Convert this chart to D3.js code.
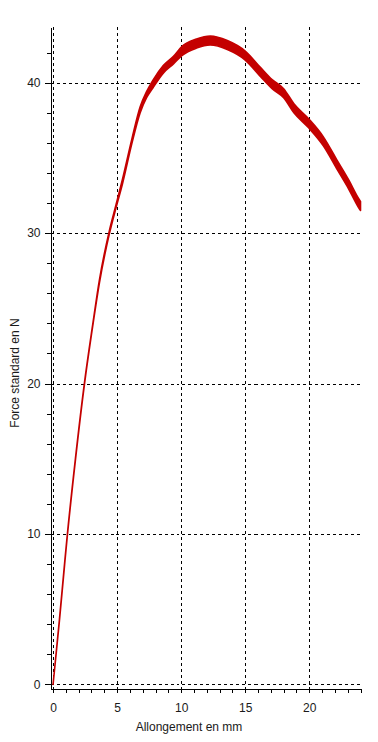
<!DOCTYPE html>
<html lang="fr">
<head>
    <meta charset="UTF-8">
    <title>Force / Allongement</title>
    <style>
        body { margin: 0; background: #fff; }
        svg { display: block; }
        text { font-family: "Liberation Sans", Arial, sans-serif; font-size: 12px; fill: #1a1a1a; }
        .grid line { stroke: #000; stroke-width: 1; stroke-dasharray: 3,3; shape-rendering: crispEdges; }
        .axis path, .axis line { stroke: #000; shape-rendering: crispEdges; }
    </style>
</head>
<body>
    <svg id="chart" width="378" height="742"></svg>

<script src="https://cdn.jsdelivr.net/npm/d3@7/dist/d3.min.js"></script>
<script>
    // elongation (mm) and force (N), centre of the noisy trace plus its band
    let elongation = [0, 0.5, 0.9, 1.1, 1.75, 2.45, 3.1, 3.62, 4.38, 4.92, 5.41, 6.15, 6.8, 7.3, 7.79, 8.62, 9.4, 10.05, 11.2, 12.27, 13.6, 15.0, 16.2, 17.1, 18.0, 18.8, 19.95, 21.1, 22.2, 23.1, 23.85, 24.0]
    let force = [0, 4.3, 8.0, 9.8, 15.0, 20.0, 23.9, 26.8, 30.0, 31.8, 33.4, 36.1, 38.2, 39.2, 39.9, 40.9, 41.5, 42.1, 42.6, 42.8, 42.5, 41.8, 40.7, 39.9, 39.3, 38.3, 37.3, 36.1, 34.5, 33.2, 32.0, 31.8]
    let noise = [0, 0.05, 0.05, 0.05, 0.05, 0.05, 0.05, 0.1, 0.1, 0.1, 0.15, 0.15, 0.2, 0.2, 0.25, 0.25, 0.25, 0.3, 0.3, 0.3, 0.3, 0.3, 0.3, 0.3, 0.3, 0.3, 0.3, 0.3, 0.3, 0.3, 0.3, 0.3]

    let xGridValues = [0, 5, 10, 15, 20]
    let yGridValues = [0, 10, 20, 30, 40]
    let xMinorValues = d3.range(0, 25, 1)
    let yMinorValues = d3.range(0, 44, 2)

    let xTitle = "Allongement en mm"
    let yTitle = "Force standard en N"

    let svg = d3.select("#chart")
    let margin = { left: 50.5, right: 17.5, top: 27, bottom: 53 }
    let width = 378, height = 742

    let xScale = d3.scaleLinear()
        .domain([-0.2, 24])
        .range([margin.left, width - margin.right])

    let yScale = d3.scaleLinear()
        .domain([-0.3, 43.7])
        .range([height - margin.bottom, margin.top])

    let px = v => Math.round(v) + 0.5

    // dashed grid
    let grid = svg.append("g").attr("class", "grid")
    grid.selectAll(".v").data(xGridValues).enter().append("line")
        .attr("x1", d => px(xScale(d))).attr("x2", d => px(xScale(d)))
        .attr("y1", margin.top).attr("y2", height - margin.bottom)
    grid.selectAll(".h").data(yGridValues).enter().append("line")
        .attr("y1", d => px(yScale(d))).attr("y2", d => px(yScale(d)))
        .attr("x1", margin.left).attr("x2", width - margin.right)

    // trace
    let points = elongation.map((e, i) => ({ x: e, y: force[i], n: noise[i] }))

    let band = d3.area()
        .x(d => xScale(d.x))
        .y0(d => yScale(d.y - d.n))
        .y1(d => yScale(d.y + d.n))
        .curve(d3.curveMonotoneX)

    svg.append("path").datum(points)
        .attr("d", band)
        .attr("fill", "#c40000")
        .attr("stroke", "#c40000")
        .attr("stroke-width", 1.6)
        .attr("stroke-linejoin", "round")

    // axes
    let xAxisY = height - margin.bottom
    svg.append("g").attr("class", "axis")
        .attr("transform", `translate(0,${xAxisY})`)
        .call(d3.axisBottom(xScale).tickValues(xMinorValues).tickSize(4).tickSizeOuter(0).tickFormat(""))
    svg.append("g").attr("class", "axis")
        .attr("transform", `translate(0,${xAxisY})`)
        .call(d3.axisBottom(xScale).tickValues(xGridValues).tickSize(4).tickPadding(10).tickSizeOuter(0))

    svg.append("g").attr("class", "axis")
        .attr("transform", `translate(${margin.left},0)`)
        .call(d3.axisLeft(yScale).tickValues(yMinorValues).tickSize(4).tickSizeOuter(0).tickFormat(""))
    svg.append("g").attr("class", "axis")
        .attr("transform", `translate(${margin.left},0)`)
        .call(d3.axisLeft(yScale).tickValues(yGridValues).tickSize(6).tickPadding(4).tickSizeOuter(0))

    svg.selectAll(".axis text").attr("font-family", null).attr("font-size", null).attr("fill", null)

    // titles
    svg.append("text")
        .attr("x", 189).attr("y", 731)
        .attr("text-anchor", "middle")
        .text(xTitle)

    svg.append("text")
        .attr("transform", "translate(19,373) rotate(-90)")
        .attr("text-anchor", "middle")
        .text(yTitle)
</script>
</body>
</html>
